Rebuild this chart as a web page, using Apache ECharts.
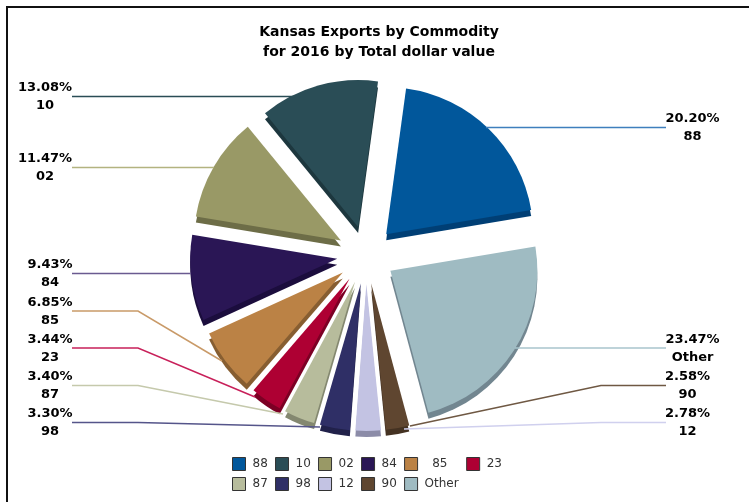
<!DOCTYPE html>
<html><head><meta charset="utf-8">
<style>html,body{margin:0;padding:0;background:#fff}#c{width:749px;height:502px}</style>
<script src="https://cdn.jsdelivr.net/npm/echarts@6/dist/echarts.min.js"></script>
</head><body><div id="c"></div>
<script>
const categories = ['88','10','02','84','85','23','87','98','12','90','Other'];
const shares = [20.20,13.08,11.47,9.43,6.85,3.44,3.40,3.30,2.78,2.58,23.47];
const faceColors = ['#01579b','#2a4d56','#999966','#2a1655','#bb8245','#ae0033','#b7bc9c','#2f2f66','#c3c3e3','#5f4630','#9fbbc2'];
const sideColors = ['#003f75','#1d373e','#6d6d47','#1b0d3d','#875e31','#7c0024','#848870','#21214a','#8c8ca8','#443222','#728690'];
const lineColors = ['#3f7fbd','#2a4d56','#b3b380','#6a5a90','#c99a68','#c8205a','#c5c9ac','#55558a','#d0d0ee','#6f5843','#a8c5cc'];
// label anchor [x, y] and leader polyline per category
const labelAnchors = [[692.5,128],[45,96.5],[45,168],[50,274],[50,311.5],[50,348.5],[50,386],[50,423],[687.5,423],[687.5,386],[692.5,348.5]];
const leaders = [
 [[666,127.5],[666,127.5],[486,127.5]],
 [[72,96.5],[72,96.5],[296,96.5]],
 [[72,167.5],[72,167.5],[214,167.5]],
 [[72,273.5],[72,273.5],[191,273.5]],
 [[72,311],[138,311],[222,361]],
 [[72,348],[138,348],[255,397]],
 [[72,385.5],[138,385.5],[283,414]],
 [[72,422.5],[138,422.5],[320,427]],
 [[666,422.5],[601,422.5],[404,429]],
 [[666,385.5],[601,385.5],[410,426]],
 [[666,348],[666,348],[515,348]]
];
const centerX = 366, centerY = 255, depth = 6, radius = 147, explode = 29, startAngle = 9.5;
const chart = echarts.init(document.getElementById('c'), null, {renderer:'canvas'});
const mk = (colors) => categories.map((n,i)=>({name:n,value:shares[i],selected:true,itemStyle:{color:colors[i]}}));
chart.setOption({
  animation:false,
  backgroundColor:'#fff',
  title:{text:'Kansas Exports by Commodity\nfor 2016 by Total dollar value',left:374,top:17,textAlign:'center',
    textStyle:{fontFamily:'DejaVu Sans',fontWeight:'bold',fontSize:14,lineHeight:20,color:'#000'}},
  legend:{left:227,top:452,width:300,icon:'rect',itemWidth:13,itemHeight:13,itemGap:6,selectedMode:false,
    data:categories,
    formatter:n=>n==='85'?'\u00a0\u00a085\u00a0\u00a0\u00a0':n,
    itemStyle:{borderColor:'#333',borderWidth:1},
    textStyle:{fontFamily:'DejaVu Sans',fontSize:12,color:'#333',lineHeight:12,padding:[0,1.25,0,2]}},
  graphic:[
    {type:'line',silent:true,shape:{x1:6,y1:7,x2:749,y2:7},style:{stroke:'#111',lineWidth:2}},
    {type:'line',silent:true,shape:{x1:7,y1:6,x2:7,y2:502},style:{stroke:'#111',lineWidth:2}}
  ],
  series:[
    {type:'pie',name:'face',z:3,center:[centerX,centerY],radius:[0,radius],startAngle,clockwise:false,
     selectedMode:'multiple',selectedOffset:explode,silent:true,
     data:mk(faceColors),label:{show:false},labelLine:{show:false}},
    {type:'pie',name:'side',z:2,center:[centerX,centerY+depth],radius:[0,radius],startAngle,clockwise:false,
     selectedMode:'multiple',selectedOffset:explode,silent:true,legendHoverLink:false,
     data:mk(sideColors),label:{show:false},labelLine:{show:false}},
    {type:'pie',name:'labels',z:4,center:[centerX,centerY],radius:[0,radius],startAngle,clockwise:false,
     silent:true,legendHoverLink:false,avoidLabelOverlap:false,
     data:categories.map((n,i)=>({name:n,value:shares[i],itemStyle:{color:'rgba(0,0,0,0)'},labelLine:{lineStyle:{color:lineColors[i]}}})),
     label:{show:true,position:'outside',formatter:p=>p.value.toFixed(2)+'%\n'+p.name,
       fontFamily:'DejaVu Sans',fontWeight:'bold',fontSize:13,lineHeight:18,color:'#000',align:'center'},
     labelLine:{show:true,lineStyle:{width:1.5}},
     labelLayout:p=>({x:labelAnchors[p.dataIndex][0],y:labelAnchors[p.dataIndex][1],align:'center',verticalAlign:'middle',labelLinePoints:leaders[p.dataIndex]})
    }
  ]
});
</script></body></html>
